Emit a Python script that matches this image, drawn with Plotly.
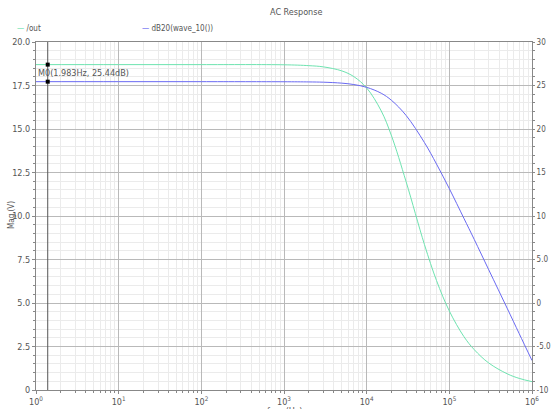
import plotly.graph_objects as go

# Data
freq_hz = [1, 10, 100, 1000, 2000, 3000, 5000, 7000, 10000, 15000, 20000, 30000,
           50000, 70000, 100000, 150000, 200000, 300000, 500000, 700000, 1000000]
out_mag_v = [18.7, 18.7, 18.7, 18.69, 18.64, 18.57, 18.34, 18.01, 17.36, 16.04, 14.6, 11.97,
             8.36, 6.29, 4.54, 3.07, 2.32, 1.55, 0.934, 0.667, 0.48]
db20_wave = [25.44, 25.44, 25.44, 25.43, 25.41, 25.38, 25.27, 25.11, 24.79, 24.11, 23.29, 21.56,
             18.44, 15.97, 13.14, 9.74, 7.31, 3.81, -0.59, -3.52, -6.61]

marker_freq = 1.386
marker_mag = 18.7
marker_db = 25.44
marker_label = "M0(1.983Hz, 25.44dB)"

x_tickvals = [1, 10, 100, 1000, 10000, 100000, 1000000]
x_ticktext = ["10<sup>0</sup>", "10<sup>1</sup>", "10<sup>2</sup>", "10<sup>3</sup>",
              "10<sup>4</sup>", "10<sup>5</sup>", "10<sup>6</sup>"]
y_tickvals = [0, 2.5, 5, 7.5, 10, 12.5, 15, 17.5, 20]
y_ticktext = ["0", "2.5", "5.0", "7.5", "10.0", "12.5", "15.0", "17.5", "20.0"]
y2_tickvals = [-10, -5, 0, 5, 10, 15, 20, 25, 30]
y2_ticktext = ["-10", "-5.0", "0", "5.0", "10", "15", "20", "25", "30"]

GREEN = "#6ee3b0"
BLUE = "#6a6af2"
FONT = "DejaVu Sans Condensed, DejaVu Sans"
TXT = "#555555"
MAJ = "#b9b9b9"
MIN = "#ebebeb"

fig = go.Figure()
fig.add_trace(go.Scatter(x=freq_hz, y=out_mag_v, mode="lines", line=dict(color=GREEN, width=1),
                         line_shape="spline", name="/out", yaxis="y"))
fig.add_trace(go.Scatter(x=freq_hz, y=db20_wave, mode="lines", line=dict(color=BLUE, width=1),
                         line_shape="spline", name="dB20(wave_10())", yaxis="y2"))
# marker line
fig.add_trace(go.Scatter(x=[marker_freq, marker_freq], y=[0, 20], mode="lines",
                         line=dict(color="#555555", width=1), yaxis="y", showlegend=False))
fig.add_trace(go.Scatter(x=[marker_freq], y=[marker_mag], mode="markers",
                         marker=dict(symbol="square", size=4, color="black"), yaxis="y"))
fig.add_trace(go.Scatter(x=[marker_freq], y=[marker_db], mode="markers",
                         marker=dict(symbol="square", size=4, color="black"), yaxis="y2"))

fig.update_layout(
    width=552, height=409,
    margin=dict(l=36, r=20, t=42, b=19),
    paper_bgcolor="white", plot_bgcolor="white",
    showlegend=False,
    font=dict(family=FONT, size=9, color=TXT),
    xaxis=dict(type="log", range=[0, 6], tickvals=x_tickvals, ticktext=x_ticktext,
               automargin=False,
               showgrid=True, gridcolor=MAJ, gridwidth=1,
               showline=True, linecolor="#888888", mirror=True,
               ticks="outside", ticklen=3, tickcolor="#888888",
               tickfont=dict(size=9, color=TXT),
               minor=dict(dtick="D1", showgrid=True, gridcolor=MIN, ticks="outside",
                          ticklen=2, tickcolor="#888888"),
               zeroline=False),
    yaxis=dict(range=[0, 20], tickvals=y_tickvals, ticktext=y_ticktext,
               automargin=False,
               showgrid=True, gridcolor=MAJ, gridwidth=1,
               showline=True, linecolor="#888888",
               ticks="outside", ticklen=3, tickcolor="#888888",
               tickfont=dict(size=9, color=TXT),
               minor=dict(dtick=0.5, showgrid=True, gridcolor=MIN, ticks="outside",
                          ticklen=2, tickcolor="#888888"),
               zeroline=False),
    yaxis2=dict(range=[-10, 30], overlaying="y", side="right", tickvals=y2_tickvals,
                automargin=False,
                ticktext=y2_ticktext, showgrid=False, showline=True, linecolor="#888888",
                ticks="outside", ticklen=2, tickcolor="#888888",
                tickfont=dict(size=8, color=TXT),
                minor=dict(dtick=1, ticks="outside", ticklen=2, tickcolor="#888888"),
                zeroline=False),
    annotations=[
        dict(text="AC Response", xref="paper", yref="paper", x=0.524, y=1.0, yshift=30,
             showarrow=False, font=dict(size=9, color=TXT), xanchor="center", yanchor="middle"),
        dict(text=f"<span style='color:{GREEN}'>—</span> /out", xref="paper", yref="paper",
             x=-0.043, y=1.0, yshift=14, showarrow=False, xanchor="left", yanchor="middle",
             font=dict(size=8, color=TXT)),
        dict(text=f"<span style='color:{BLUE}'>—</span> dB20(wave_10())", xref="paper", yref="paper",
             x=0.21, y=1.0, yshift=14, showarrow=False, xanchor="left", yanchor="middle",
             font=dict(size=8, color=TXT)),
        dict(text=marker_label, xref="paper", yref="paper", x=0.0, y=1.0, yshift=-31,
             showarrow=False, xanchor="left", yanchor="middle", font=dict(size=9, color=TXT)),
        dict(text="Mag (V)", xref="paper", yref="paper", x=0.0, xshift=-24, y=0.503,
             textangle=-90, showarrow=False, xanchor="center", yanchor="middle",
             font=dict(size=8, color=TXT)),
        dict(text="freq (Hz)", xref="paper", yref="paper", x=0.5, y=0.0, yshift=-20.5,
             showarrow=False, xanchor="center", yanchor="middle", font=dict(size=9, color=TXT)),
    ],
)

fig.write_html("out.html", config={"displayModeBar": False},
               post_script="document.body.style.margin='0';document.body.style.padding='0';")
